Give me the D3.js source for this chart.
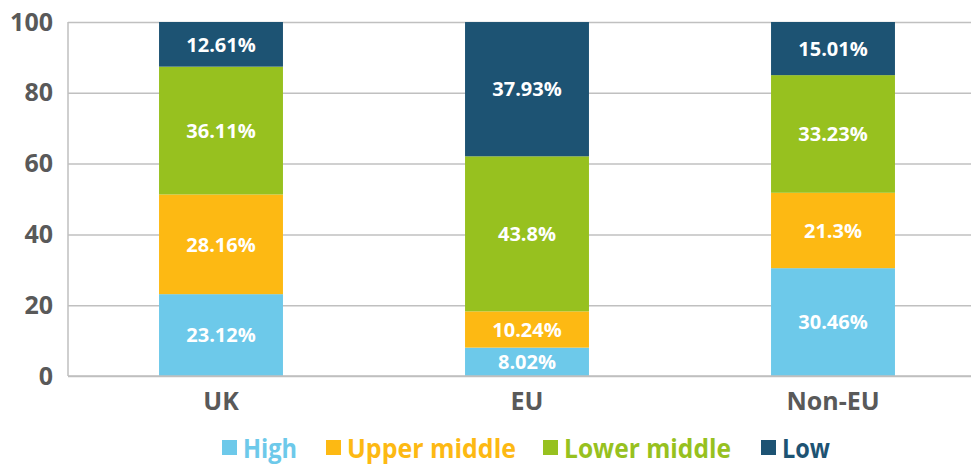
<!DOCTYPE html>
<html>
<head>
<meta charset="utf-8">
<script src="https://cdn.jsdelivr.net/npm/d3@7"></script>
<style>
  html, body { margin: 0; padding: 0; background: #fff; overflow: hidden; }
  svg { display: block; font-family: "Open Sans", "Noto Sans", sans-serif; }
</style>
</head>
<body>
<div id="chart"></div>
<script>
const categories = ['UK', 'EU', 'Non-EU'];
const seriesNames = ['High', 'Upper middle', 'Lower middle', 'Low'];
const high = [23.12, 8.02, 30.46];
const upperMiddle = [28.16, 10.24, 21.3];
const lowerMiddle = [36.11, 43.8, 33.23];
const low = [12.61, 37.93, 15.01];
const yTicks = [0, 20, 40, 60, 80, 100];
const colors = ['#6dc9ea', '#fdb913', '#97c11f', '#1d5373'];

const width = 971, height = 466;
const margin = { top: 22, left: 68, bottom: 90 };
const plotW = 918;
const plotH = height - margin.top - margin.bottom;

const svg = d3.select('#chart').append('svg')
  .attr('width', width)
  .attr('height', height);

const g = svg.append('g').attr('transform', `translate(${margin.left},${margin.top})`);

const x = d3.scaleBand().domain(categories).range([0, plotW]).paddingInner(0.595).paddingOuter(0.2975);
const y = d3.scaleLinear().domain([0, 100]).range([plotH, 0]);

// gridlines
g.append('g')
  .call(d3.axisLeft(y).tickValues(yTicks).tickSize(-plotW).tickFormat(''))
  .call(s => s.select('.domain').remove())
  .selectAll('.tick line')
  .attr('stroke', '#c0c0c0')
  .attr('stroke-width', 1.5);

// left axis line
g.append('line')
  .attr('x1', 0).attr('x2', 0).attr('y1', 0).attr('y2', plotH)
  .attr('stroke', '#bfbfbf').attr('stroke-width', 1.5);

// y labels
const yAxis = g.append('g')
  .call(d3.axisLeft(y).tickValues(yTicks).tickSize(0).tickPadding(15));
yAxis.select('.domain').remove();
yAxis.selectAll('text')
  .style('font-family', '"Open Sans", sans-serif')
  .style('font-size', '25px')
  .style('font-weight', 700)
  .style('fill', '#595959');

const table = categories.map((c, i) => ({
  cat: c, High: high[i], 'Upper middle': upperMiddle[i], 'Lower middle': lowerMiddle[i], Low: low[i]
}));
const stack = d3.stack().keys(seriesNames)(table);

const layers = g.selectAll('.layer').data(stack).enter().append('g')
  .attr('fill', (d, i) => colors[i]);

layers.selectAll('rect').data(d => d).enter().append('rect')
  .attr('x', d => x(d.data.cat))
  .attr('width', x.bandwidth())
  .attr('y', d => y(d[1]))
  .attr('height', d => y(d[0]) - y(d[1]));

layers.selectAll('text').data(d => d.map(v => ({ v, key: d.key }))).enter().append('text')
  .attr('x', d => x(d.v.data.cat) + x.bandwidth() / 2)
  .attr('y', d => (y(d.v[0]) + y(d.v[1])) / 2)
  .attr('dy', '0.36em')
  .attr('text-anchor', 'middle')
  .style('fill', '#fff')
  .style('font-size', '20px')
  .style('font-weight', 700)
  .text(d => d.v.data[d.key] + '%');

// bottom axis line
g.append('line')
  .attr('x1', 0).attr('x2', plotW).attr('y1', plotH).attr('y2', plotH)
  .attr('stroke', '#bfbfbf').attr('stroke-width', 1.5);

// category labels
const xAxis = g.append('g')
  .attr('transform', `translate(0,${plotH})`)
  .call(d3.axisBottom(x).tickSize(0).tickPadding(16));
xAxis.select('.domain').remove();
xAxis.selectAll('text')
  .style('font-family', '"Open Sans", sans-serif')
  .style('font-size', '25px')
  .style('font-weight', 700)
  .style('fill', '#595959');

// legend
const legendPos = [222, 326, 543, 761];
const legendLen = [54, 169, 167, 48];
const legend = svg.append('g').attr('transform', 'translate(0,458)');
seriesNames.forEach((name, i) => {
  legend.append('rect')
    .attr('x', legendPos[i]).attr('y', -18)
    .attr('width', 15).attr('height', 15)
    .attr('fill', colors[i]);
  legend.append('text')
    .attr('x', legendPos[i] + 21)
    .attr('y', 0)
    .attr('textLength', legendLen[i])
    .attr('lengthAdjust', 'spacingAndGlyphs')
    .style('font-size', '27px')
    .style('font-weight', 700)
    .style('fill', colors[i])
    .text(name);
});
</script>
</body>
</html>
